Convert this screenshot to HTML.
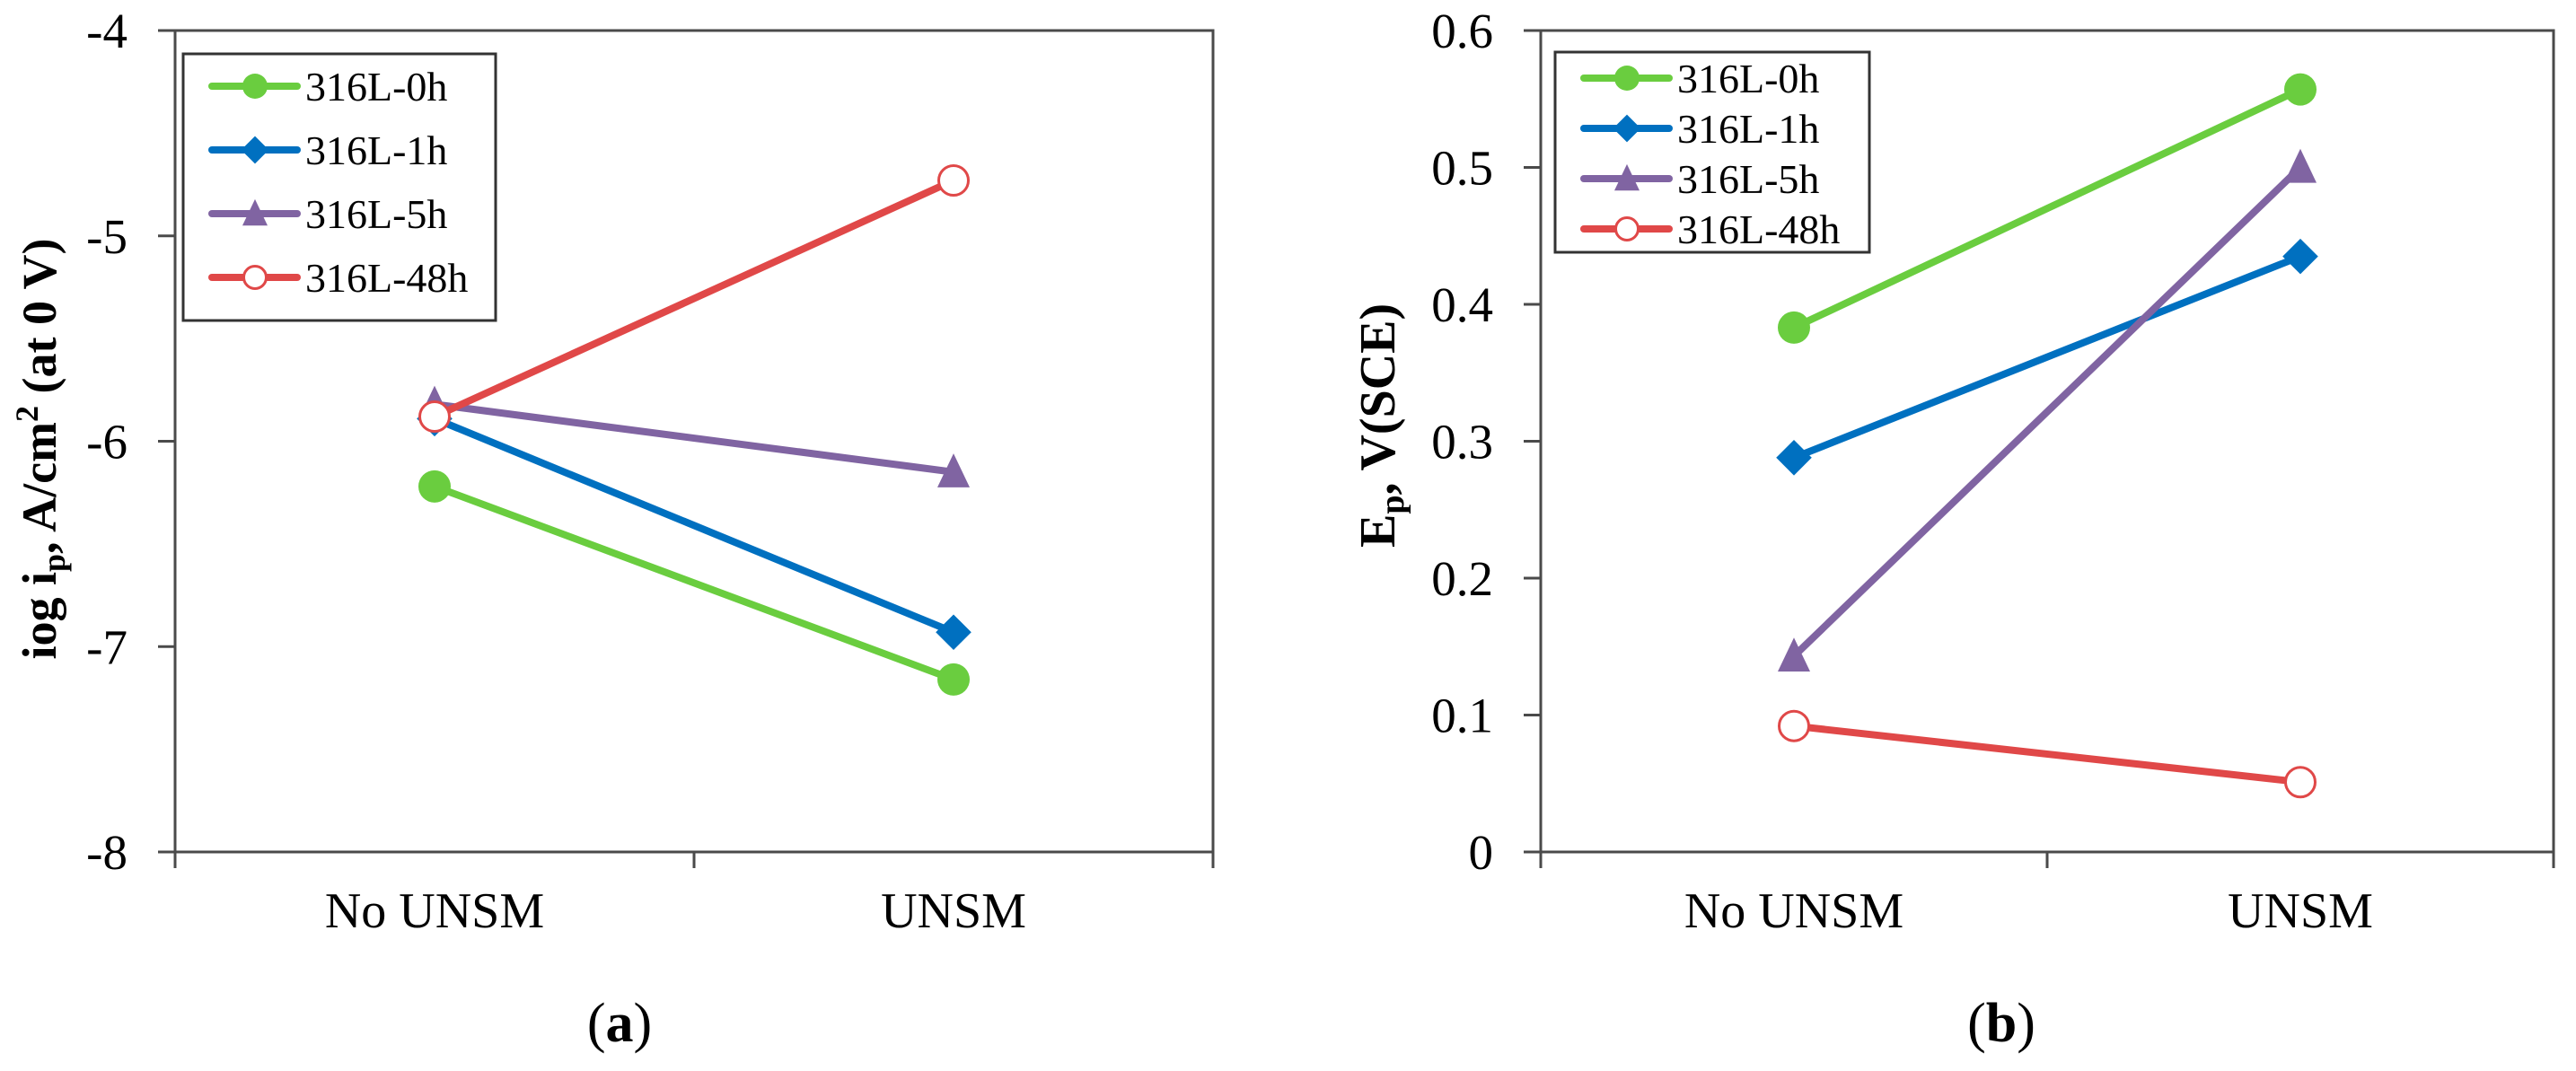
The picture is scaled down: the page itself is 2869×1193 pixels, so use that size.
<!DOCTYPE html>
<html><head><meta charset="utf-8"><style>
html,body{margin:0;padding:0;background:#fff;}
svg{display:block;font-family:"Liberation Serif",serif;}
svg text{font-family:"Liberation Serif",serif;}
</style></head><body>
<svg id="fig" width="2869" height="1193" viewBox="0 0 2869 1193" xmlns="http://www.w3.org/2000/svg" font-family="Liberation Serif, serif">
<g id="pa"></g>
<g id="pb"></g>
<text x="62" y="500" font-family="Liberation Serif, serif" font-size="54" font-weight="bold" text-anchor="middle" transform="rotate(-90 62 500)">iog i<tspan font-size="36" dy="10">p</tspan><tspan dy="-10">, A/cm</tspan><tspan font-size="36" dy="-20">2</tspan><tspan dy="20"> (at 0 V)</tspan></text>
<text x="1553" y="610" font-family="Liberation Serif, serif" font-size="56" font-weight="bold" text-anchor="start" transform="rotate(-90 1553 610)">E<tspan font-size="38" dy="10">p</tspan><tspan dy="-10">, V(SCE)</tspan></text>
<text x="690" y="1160" font-family="Liberation Serif, serif" font-size="62" text-anchor="middle">(<tspan font-weight="bold">a</tspan>)</text>
<text x="2229" y="1160" font-family="Liberation Serif, serif" font-size="62" text-anchor="middle">(<tspan font-weight="bold">b</tspan>)</text>
</svg>
<script>
const categories = ["No UNSM", "UNSM"];
const seriesNames = ["316L-0h", "316L-1h", "316L-5h", "316L-48h"];
const seriesColors = ["#6acd3f", "#0070c0", "#8064a2", "#e04848"];
const seriesMarkers = ["circle", "diamond", "triangle", "open"];
const aValues0h = [-6.22, -7.16];
const aValues1h = [-5.89, -6.93];
const aValues5h = [-5.82, -6.15];
const aValues48h = [-5.88, -4.73];
const bValues0h = [0.383, 0.557];
const bValues1h = [0.288, 0.435];
const bValues5h = [0.143, 0.500];
const bValues48h = [0.092, 0.051];
const aTicks = [-4, -5, -6, -7, -8];
const aTickLabels = ["-4", "-5", "-6", "-7", "-8"];
const bTicks = [0.6, 0.5, 0.4, 0.3, 0.2, 0.1, 0];
const bTickLabels = ["0.6", "0.5", "0.4", "0.3", "0.2", "0.1", "0"];

const NS = "http://www.w3.org/2000/svg";
const FF = "Liberation Serif, serif";
function mk(parent, tag, attrs, text) {
  const e = document.createElementNS(NS, tag);
  for (const k in attrs) e.setAttribute(k, attrs[k]);
  if (text !== undefined) { e.textContent = text; e.setAttribute("font-family", FF); }
  parent.appendChild(e);
  return e;
}
function marker(g, type, cx, cy, r, color) {
  let m;
  if (type === "circle") m = mk(g, "circle", {cx: cx, cy: cy, r: r, fill: color});
  else if (type === "open") m = mk(g, "circle", {cx: cx, cy: cy, r: r - 1.5, fill: "#fff", stroke: color, "stroke-width": 3});
  else if (type === "diamond") m = mk(g, "polygon", {points: `${cx},${cy - r * 1.1} ${cx + r * 1.1},${cy} ${cx},${cy + r * 1.1} ${cx - r * 1.1},${cy}`, fill: color});
  else m = mk(g, "polygon", {points: `${cx},${cy - r * 1.15} ${cx + r},${cy + r * 0.95} ${cx - r},${cy + r * 0.95}`, fill: color});
  return m;
}
function panel(g, cfg) {
  const {x0, x1, y0, y1, ymin, ymax, ticks, tickLabels, series, legend} = cfg;
  const yS = v => y1 - (v - ymin) / (ymax - ymin) * (y1 - y0);
  const bw = (x1 - x0) / categories.length;
  const xS = i => x0 + bw * (i + 0.5);
  const frame = mk(g, "rect", {x: x0, y: y0, width: x1 - x0, height: y1 - y0, fill: "none", stroke: "#4a4a4a", "stroke-width": 3});
  
  
  ticks.forEach((t, i) => {
    const y = yS(t);
    const tl = mk(g, "line", {x1: x0 - 19, x2: x0, y1: y, y2: y, stroke: "#4a4a4a", "stroke-width": 3});
    
    
    const lab = mk(g, "text", {x: x0 - 53, y: y + 19, "font-size": 55, "text-anchor": "end"}, tickLabels[i]);
    
    
  });
  for (let i = 0; i <= categories.length; i++) {
    const x = x0 + bw * i;
    const tl = mk(g, "line", {x1: x, x2: x, y1: y1, y2: y1 + 18, stroke: "#4a4a4a", "stroke-width": 3});
    
    
  }
  categories.forEach((c, i) => {
    const lab = mk(g, "text", {x: xS(i), y: 1033, "font-size": 56, "text-anchor": "middle"}, c);
    
    
  });
  series.forEach((vals, s) => {
    const sg = mk(g, "g", {});
    
    
    const pts = vals.map((v, i) => xS(i) + "," + yS(v)).join(" ");
    mk(sg, "polyline", {points: pts, fill: "none", stroke: seriesColors[s], "stroke-width": 8});
    vals.forEach((v, i) => {
      const m = marker(sg, seriesMarkers[s], xS(i), yS(v), 18, seriesColors[s]);
      
      
    });
  });
  const lg = mk(g, "g", {});
  
  
  mk(lg, "rect", {x: legend.x, y: legend.y, width: legend.w, height: legend.h, fill: "#fff", stroke: "#333", "stroke-width": 3});
  seriesNames.forEach((n, s) => {
    const eg = mk(lg, "g", {});
    
    
    const y = legend.rowY + legend.rowH * s;
    const lx = legend.x + 32;
    mk(eg, "line", {x1: lx, x2: lx + 95, y1: y, y2: y, stroke: seriesColors[s], "stroke-width": 8, "stroke-linecap": "round"});
    marker(eg, seriesMarkers[s], lx + 48, y, 14, seriesColors[s]);
    mk(eg, "text", {x: lx + 104, y: y + 16, "font-size": 46}, n);
  });
}
panel(document.getElementById("pa"), {x0: 195, x1: 1351, y0: 34, y1: 949, ymin: -8, ymax: -4,
  ticks: aTicks, tickLabels: aTickLabels, series: [aValues0h, aValues1h, aValues5h, aValues48h],
  legend: {x: 204, y: 60, w: 348, h: 297, rowY: 96, rowH: 71}});
panel(document.getElementById("pb"), {x0: 1716, x1: 2844, y0: 34, y1: 949, ymin: 0, ymax: 0.6,
  ticks: bTicks, tickLabels: bTickLabels, series: [bValues0h, bValues1h, bValues5h, bValues48h],
  legend: {x: 1732, y: 58, w: 350, h: 223, rowY: 87, rowH: 56}});
</script>
</body></html>
